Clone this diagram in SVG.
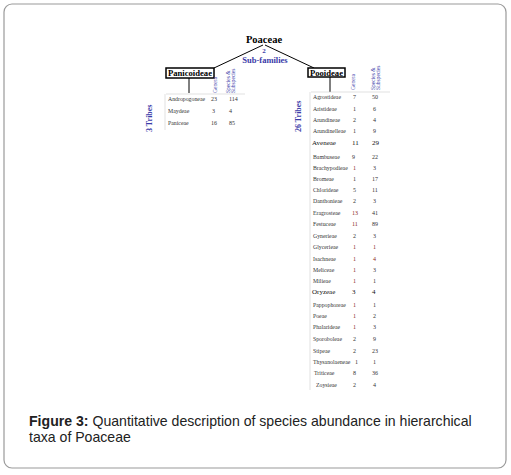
<svg xmlns="http://www.w3.org/2000/svg" width="511" height="475" viewBox="0 0 511 475">
<style>
.frame{fill:#fff;stroke:#9a9a9a;stroke-width:1.2}
.title{font-family:"Liberation Serif",serif;font-weight:bold;font-size:10.5px;fill:#000}
.blue{font-family:"Liberation Serif",serif;font-weight:bold;fill:#3a3aa8}
.box{fill:#fff;stroke:#000;stroke-width:1.5}
.boxt{font-family:"Liberation Serif",serif;font-weight:bold;font-size:7.5px;fill:#000}
.hdr{font-family:"Liberation Serif",serif;font-size:5.5px;fill:#3a3aa8}
.row{font-family:"Liberation Serif",serif;font-size:5.8px;fill:#333}
.big{font-family:"Liberation Serif",serif;font-size:7px;fill:#111}
.num{font-family:"Liberation Serif",serif;font-size:6px;fill:#333}
.red{fill:#8b2a1a}
.conn line{stroke:#000;stroke-width:1}
.grid line{stroke:#ccc;stroke-width:0.6}
.cap{font-family:"Liberation Sans",Arial,sans-serif;font-size:14.1px;fill:#222}
</style>
<rect class="frame" x="4" y="4" width="502" height="464" rx="8"/>
<g class="conn">
<line x1="263" y1="45" x2="214" y2="68"/>
<line x1="265" y1="45" x2="314" y2="68"/>
<line x1="189" y1="78" x2="189" y2="93"/>
<line x1="330" y1="77" x2="330" y2="92"/>
</g>
<g id="poaceae">
<text class="title" x="264" y="43" text-anchor="middle">Poaceae</text>
<text class="blue" x="264" y="52.5" font-size="7" text-anchor="middle">2</text>
<text class="blue" x="265" y="62.5" font-size="8.5" text-anchor="middle">Sub-families</text>
</g>
<g id="panicoideae">
<rect class="box" x="166" y="68" width="48" height="10"/>
<text class="boxt" x="190" y="76" text-anchor="middle" textLength="44" lengthAdjust="spacingAndGlyphs">Panicoideae</text>
<g class="grid"><line x1="166" y1="94" x2="245" y2="94"/><line x1="165" y1="94" x2="165" y2="130"/></g>
<text class="hdr" transform="translate(217,93) rotate(-90)">Genera</text>
<text class="hdr" transform="translate(230,93) rotate(-90)">Species &amp;</text>
<text class="hdr" transform="translate(235,93) rotate(-90)">Subspecies</text>
<text class="blue" font-size="8" font-weight="normal" transform="translate(152,132) rotate(-90)">3 Tribes</text>
<text class="row" x="168" y="101">Andropogoneae</text><text class="num" x="211" y="101">23</text><text class="num" x="229" y="101">114</text>
<text class="row" x="168" y="113">Maydeae</text><text class="num" x="212" y="113">3</text><text class="num" x="229" y="113">4</text>
<text class="row" x="168" y="125">Paniceae</text><text class="num" x="211" y="125">16</text><text class="num" x="229" y="125">85</text>
</g>
<g id="pooideae">
<rect class="box" x="308" y="68" width="37" height="9"/>
<text class="boxt" x="326.5" y="75.5" text-anchor="middle" textLength="33" lengthAdjust="spacingAndGlyphs">Pooideae</text>
<g class="grid"><line x1="311" y1="92" x2="390" y2="92"/><line x1="310" y1="92" x2="310" y2="390"/></g>
<text class="hdr" transform="translate(355,90) rotate(-90)">Genera</text>
<text class="hdr" transform="translate(375,90) rotate(-90)">Species &amp;</text>
<text class="hdr" transform="translate(380,90) rotate(-90)">Subspecies</text>
<text class="blue" font-size="8" font-weight="normal" transform="translate(301,132) rotate(-90)">26 Tribes</text>
<text class="row" x="313" y="99">Agrostideae</text><text class="num" x="353" y="99">7</text><text class="num" x="372" y="99">50</text>
<text class="row" x="313" y="111">Aristideae</text><text class="num" x="353" y="111">1</text><text class="num" x="373" y="111">6</text>
<text class="row" x="313" y="122">Arundineae</text><text class="num" x="353" y="122">2</text><text class="num" x="373" y="122">4</text>
<text class="row" x="313" y="133">Arundinelleae</text><text class="num" x="353" y="133">1</text><text class="num" x="373" y="133">9</text>
<text class="big" x="312" y="145">Aveneae</text><text class="big" x="352" y="145">11</text><text class="big" x="372" y="145">29</text>
<text class="row" x="313" y="159">Bambuseae</text><text class="num" x="352" y="159">9</text><text class="num" x="372" y="159">22</text>
<text class="row" x="313" y="170">Brachypodieae</text><text class="num red" x="353" y="170">1</text><text class="num" x="373" y="170">3</text>
<text class="row" x="313" y="181">Bromeae</text><text class="num" x="353" y="181">1</text><text class="num" x="372" y="181">17</text>
<text class="row" x="313" y="192">Chlorideae</text><text class="num" x="353" y="192">5</text><text class="num" x="372" y="192">11</text>
<text class="row" x="313" y="203">Danthonieae</text><text class="num" x="353" y="203">2</text><text class="num" x="373" y="203">3</text>
<text class="row" x="313" y="215">Eragrosteae</text><text class="num red" x="352" y="215">13</text><text class="num" x="372" y="215">41</text>
<text class="row" x="313" y="226">Festuceae</text><text class="num red" x="352" y="226">11</text><text class="num" x="372" y="226">89</text>
<text class="row" x="313" y="238">Gynerieae</text><text class="num" x="353" y="238">2</text><text class="num" x="373" y="238">3</text>
<text class="row" x="313" y="249">Glycerieae</text><text class="num red" x="353" y="249">1</text><text class="num red" x="373" y="249">1</text>
<text class="row" x="313" y="261">Isachneae</text><text class="num red" x="353" y="261">1</text><text class="num red" x="373" y="261">4</text>
<text class="row" x="313" y="272">Meliceae</text><text class="num red" x="353" y="272">1</text><text class="num" x="373" y="272">3</text>
<text class="row" x="313" y="283">Milieae</text><text class="num red" x="353" y="283">1</text><text class="num" x="373" y="283">1</text>
<text class="big" x="312" y="294">Oryzeae</text><text class="big" x="352" y="294">3</text><text class="big" x="372" y="294">4</text>
<text class="row" x="313" y="307">Pappophoreae</text><text class="num red" x="353" y="307">1</text><text class="num" x="373" y="307">1</text>
<text class="row" x="313" y="318">Poeae</text><text class="num red" x="353" y="318">1</text><text class="num" x="373" y="318" fill="#c06020">2</text>
<text class="row" x="313" y="329">Phalarideae</text><text class="num red" x="353" y="329">1</text><text class="num" x="373" y="329">3</text>
<text class="row" x="313" y="341">Sporoboleae</text><text class="num" x="353" y="341">2</text><text class="num" x="373" y="341">9</text>
<text class="row" x="313" y="353">Stipeae</text><text class="num" x="353" y="353">2</text><text class="num" x="372" y="353">23</text>
<text class="row" x="313" y="364">Thysanolaeneae</text><text class="num" x="355" y="364">1</text><text class="num" x="373" y="364">1</text>
<text class="row" x="314" y="375">Triticeae</text><text class="num" x="353" y="375">8</text><text class="num" x="372" y="375">36</text>
<text class="row" x="316" y="387">Zoysieae</text><text class="num" x="353" y="387">2</text><text class="num" x="373" y="387">4</text>
</g>
<g id="caption">
<text class="cap" x="29" y="426"><tspan font-weight="bold">Figure 3:</tspan> Quantitative description of species abundance in hierarchical</text>
<text class="cap" x="29" y="442">taxa of Poaceae</text>
</g>
</svg>
